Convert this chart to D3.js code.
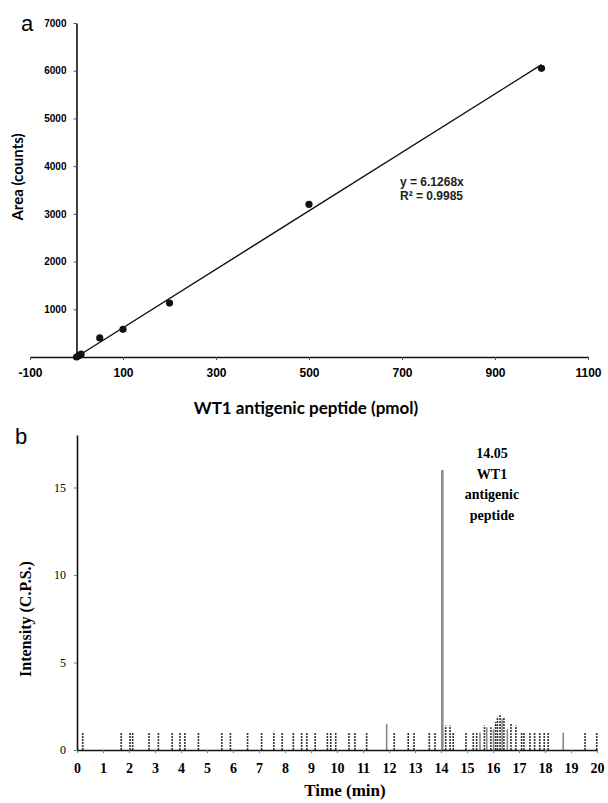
<!DOCTYPE html>
<html>
<head>
<meta charset="utf-8">
<script src="https://cdn.jsdelivr.net/npm/d3@7/dist/d3.min.js"></script>
<style>
  html, body { margin: 0; padding: 0; background: #fff; }
  svg { display: block; }
</style>
</head>
<body>
<div id="chart"></div>
<script>
// Panel a: calibration curve
const amountPmol = [0, 5, 10, 50, 100, 200, 500, 1000]
const areaCounts = [0, 30, 60, 400, 580, 1130, 3200, 6050]
const fitSlope = 6.1268
const fitLabels = ["y = 6.1268x", "R\u00b2 = 0.9985"]
const aXTicks = [-100, 100, 300, 500, 700, 900, 1100]
const aYTicks = [1000, 2000, 3000, 4000, 5000, 6000, 7000]

// Panel b: chromatogram, black trace (noise) and grey trace (analyte)
const blackTimes = [0.22, 1.70, 2.04, 2.14, 2.77, 3.13, 3.66, 3.96, 4.15, 4.67, 5.57, 5.90,
  6.56, 7.10, 7.57, 7.89, 8.32, 8.64, 8.84, 9.16, 9.63, 9.76, 9.95, 10.46, 10.69, 11.14,
  12.20, 12.74, 12.96, 13.55, 13.77, 14.18, 14.35, 14.47, 14.96, 15.24, 15.37, 15.67,
  15.92, 16.10, 16.17, 16.27, 16.42, 16.69, 16.88, 17.10, 17.19, 17.42, 17.60, 17.80,
  17.97, 18.12, 19.54, 19.99]
const blackHeights = [1.0, 1.0, 1.0, 1.0, 1.0, 1.0, 1.0, 1.0, 1.0, 1.0, 1.0, 1.0,
  1.0, 1.0, 1.05, 1.0, 1.0, 1.0, 1.0, 1.0, 1.0, 1.0, 1.0, 1.0, 1.0, 1.0,
  1.0, 1.0, 1.0, 1.0, 1.0, 1.4, 1.4, 1.0, 1.0, 1.0, 1.0, 1.4,
  1.3, 1.6, 1.9, 2.0, 1.9, 1.5, 1.4, 1.0, 1.0, 1.0, 1.0, 1.0,
  1.0, 1.0, 1.0, 1.0]
const greyTimes = [11.91, 14.05, 15.50, 15.76, 16.02, 16.35, 16.55, 18.70]
const greyHeights = [1.5, 16.0, 1.0, 1.3, 1.2, 1.8, 1.2, 1.0]
const peakLabel = ["14.05", "WT1", "antigenic", "peptide"]
const bXTicks = d3.range(0, 21)
const bYTicks = [0, 5, 10, 15]

const W = 608, H = 803
const svg = d3.select("#chart").append("svg")
  .attr("width", W).attr("height", H)

const sans = "'Liberation Sans', Arial, sans-serif"
const titleSans = "Lato, 'Open Sans', sans-serif"
const serif = "'Liberation Serif', 'DejaVu Serif', serif"

// ---------- panel a ----------
const xa = d3.scaleLinear().domain([-100, 1100]).range([30, 588])
const ya = d3.scaleLinear().domain([0, 7000]).range([357, 23])

const ga = svg.append("g")

ga.append("g")
  .attr("transform", `translate(0,${ya(0)})`)
  .call(d3.axisBottom(xa).tickValues(aXTicks).tickSize(3).tickSizeOuter(0).tickPadding(8)
    .tickFormat(d => String(d)))
  .call(g => g.selectAll("text")
    .attr("font-family", sans).attr("font-size", 12).attr("font-weight", "bold"))

ga.append("g")
  .attr("transform", `translate(${xa(0)},0)`)
  .call(d3.axisLeft(ya).tickValues(aYTicks).tickSize(3).tickSizeOuter(0).tickPadding(7)
    .tickFormat(d => String(d)))
  .call(g => g.selectAll("text")
    .attr("font-family", sans).attr("font-size", 10).attr("font-weight", "bold"))

ga.selectAll(".domain").attr("stroke", "#111").attr("stroke-width", 1.6)
ga.selectAll(".tick line").attr("stroke", "#555")

// trend line
ga.append("line")
  .attr("x1", xa(0)).attr("y1", ya(0))
  .attr("x2", xa(1000)).attr("y2", ya(fitSlope * 1000))
  .attr("stroke", "#111").attr("stroke-width", 1.4)

ga.append("g").selectAll("circle")
  .data(amountPmol.map((x, i) => ({x, y: areaCounts[i]})))
  .join("circle")
  .attr("cx", d => xa(d.x)).attr("cy", d => ya(d.y))
  .attr("r", 3.6).attr("fill", "#111")

ga.append("g").selectAll("text")
  .data(fitLabels).join("text")
  .attr("x", 400).attr("y", (d, i) => 186 + i * 14)
  .attr("font-family", sans).attr("font-size", 12).attr("font-weight", "bold")
  .attr("fill", "#222")
  .text(d => d)

ga.append("text")
  .attr("transform", "translate(23,177) rotate(-90)")
  .attr("text-anchor", "middle")
  .attr("font-family", titleSans).attr("font-size", 15).attr("font-weight", "bold")
  .text("Area (counts)")

ga.append("text")
  .attr("x", 306).attr("y", 414)
  .attr("text-anchor", "middle")
  .attr("font-family", titleSans).attr("font-size", 17).attr("font-weight", "bold")
  .text("WT1 antigenic peptide (pmol)")

svg.append("text")
  .attr("x", 27).attr("y", 31)
  .attr("text-anchor", "middle")
  .attr("font-family", sans).attr("font-size", 22)
  .text("a")

// ---------- panel b ----------
const xb = d3.scaleLinear().domain([0, 20]).range([77, 597])
const yb = d3.scaleLinear().domain([0, 18]).range([750, 435])

const gb = svg.append("g")

gb.append("g").selectAll("line")
  .data(greyTimes.map((t, i) => ({t, v: greyHeights[i]})))
  .join("line")
  .attr("x1", d => xb(d.t)).attr("x2", d => xb(d.t))
  .attr("y1", yb(0)).attr("y2", d => yb(d.v))
  .attr("stroke", "#8a8a8a")
  .attr("stroke-width", d => d.v > 5 ? 2.6 : 1.6)

gb.append("g").selectAll("line")
  .data(blackTimes.map((t, i) => ({t, v: blackHeights[i]})))
  .join("line")
  .attr("x1", d => xb(d.t)).attr("x2", d => xb(d.t))
  .attr("y1", yb(0)).attr("y2", d => yb(d.v))
  .attr("stroke", "#333").attr("stroke-width", 1.6)
  .attr("stroke-dasharray", "2,1")

gb.append("g")
  .attr("transform", `translate(0,${yb(0)})`)
  .call(d3.axisBottom(xb).tickValues(bXTicks).tickSize(3).tickSizeOuter(0).tickPadding(10)
    .tickFormat(d => String(d)))
  .call(g => g.selectAll("text")
    .attr("font-family", serif).attr("font-size", 14).attr("font-weight", "bold"))

gb.append("g")
  .attr("transform", `translate(${xb(0)},0)`)
  .call(d3.axisLeft(yb).tickValues(bYTicks).tickSize(3).tickSizeOuter(0).tickPadding(8)
    .tickFormat(d => String(d)))
  .call(g => g.selectAll("text")
    .attr("font-family", serif).attr("font-size", 12))

gb.selectAll(".domain").attr("stroke", "#111").attr("stroke-width", 1.6)
gb.selectAll(".tick line").attr("stroke", "#777")

gb.append("g").selectAll("text")
  .data(peakLabel).join("text")
  .attr("x", 492).attr("y", (d, i) => 458 + i * 20.5)
  .attr("text-anchor", "middle")
  .attr("font-family", serif).attr("font-size", 14).attr("font-weight", "bold")
  .text(d => d)

gb.append("text")
  .attr("transform", "translate(31,619) rotate(-90)")
  .attr("text-anchor", "middle")
  .attr("font-family", serif).attr("font-size", 16).attr("font-weight", "bold")
  .text("Intensity (C.P.S.)")

gb.append("text")
  .attr("x", 345).attr("y", 796)
  .attr("text-anchor", "middle")
  .attr("font-family", serif).attr("font-size", 17).attr("font-weight", "bold")
  .text("Time (min)")

svg.append("text")
  .attr("x", 21).attr("y", 444)
  .attr("text-anchor", "middle")
  .attr("font-family", sans).attr("font-size", 22)
  .text("b")
</script>
</body>
</html>
